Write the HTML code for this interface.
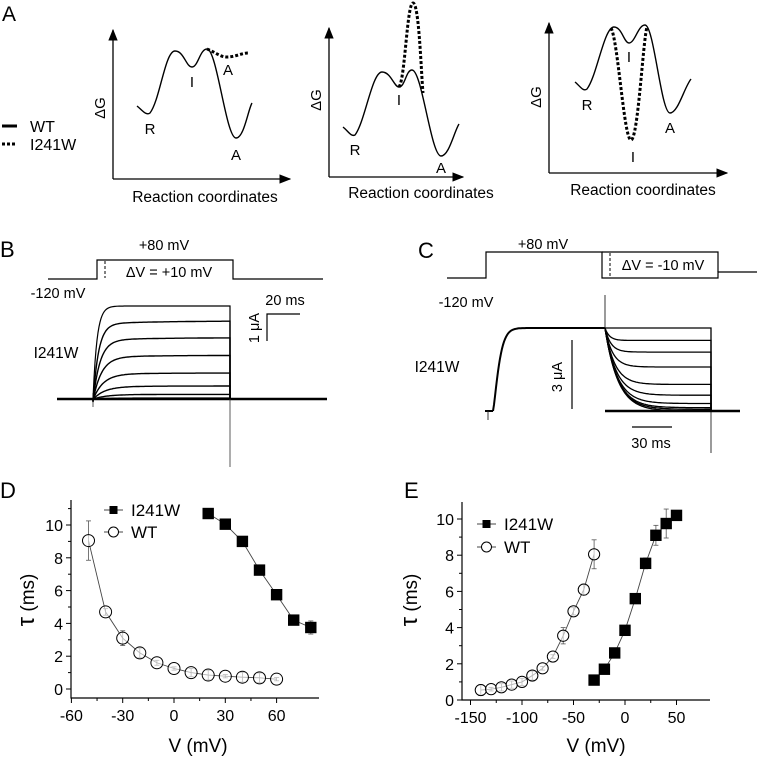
<!DOCTYPE html>
<html><head><meta charset="utf-8"><style>
html,body{margin:0;padding:0;background:#fff;}
svg{display:block;font-family:"Liberation Sans",sans-serif;}
</style></head><body>
<svg id="fig" width="757" height="760" viewBox="0 0 757 760">
<defs>
<marker id="ar" viewBox="0 0 10 10" refX="9" refY="5" markerWidth="9" markerHeight="9" orient="auto"><path d="M0,1 L10,5 L0,9 z" fill="#000"/></marker>
</defs>
<!-- Panel A -->
<g fill="none" stroke="#000">
<text x="2" y="21" font-size="21" stroke="none" fill="#000">A</text>
<line x1="2" y1="126" x2="17" y2="126" stroke-width="3"/>
<text x="30" y="132" font-size="16" stroke="none" fill="#000">WT</text>
<line x1="2" y1="144" x2="17" y2="144" stroke-width="3" stroke-dasharray="3,2"/>
<text x="30" y="150" font-size="16" stroke="none" fill="#000">I241W</text>

<g>
<line x1="113" y1="179" x2="113" y2="30" stroke-width="1.3" marker-end="url(#ar)"/>
<line x1="113" y1="179" x2="290" y2="179" stroke-width="1.3" marker-end="url(#ar)"/>
<path d="M137,106 C142,110 146,116 150,113 C160,100 165,51 175,51 C184,51 186,67 192,67 C198,67 200,49 207,49 C217,49 226,138 236,138 C244,138 248,110 252,103" stroke-width="1.4"/>
<path d="M207,49 C215,52 220,57 227,57 C235,57 242,53 248,53" stroke-width="3" stroke-dasharray="3,2"/>
<g stroke="none" fill="#000" font-size="15" text-anchor="middle">
<text x="105" y="108" transform="rotate(-90 105 108)">ΔG</text>
<text x="150" y="134">R</text><text x="192" y="87">I</text><text x="228" y="75">A</text><text x="236" y="160">A</text>
<text x="205" y="202" font-size="15.5">Reaction coordinates</text>
</g></g>

<g>
<line x1="329" y1="177" x2="329" y2="28" stroke-width="1.3" marker-end="url(#ar)"/>
<line x1="329" y1="177" x2="463" y2="177" stroke-width="1.3" marker-end="url(#ar)"/>
<path d="M343,127 C348,131 351,137 355,135 C365,122 372,72 382,72 C391,72 394,87 399,87 C405,87 406,70 412,70 C422,70 431,156 441,156 C449,156 454,132 459,124" stroke-width="1.4"/>
<path d="M399,87 C405,80 407,3 413,3 C419,3 421,70 423,93" stroke-width="3" stroke-dasharray="3,2"/>
<g stroke="none" fill="#000" font-size="15" text-anchor="middle">
<text x="321" y="100" transform="rotate(-90 321 100)">ΔG</text>
<text x="355" y="155">R</text><text x="399" y="105">I</text><text x="441" y="173">A</text>
<text x="421" y="198" font-size="15.5">Reaction coordinates</text>
</g></g>

<g>
<line x1="549" y1="173" x2="549" y2="23" stroke-width="1.3" marker-end="url(#ar)"/>
<line x1="549" y1="173" x2="727" y2="173" stroke-width="1.3" marker-end="url(#ar)"/>
<path d="M575,82 C580,86 583,92 587,89 C597,76 604,27 614,27 C622,27 624,43 629,43 C635,43 638,25 645,25 C654,25 661,113 670,113 C678,113 684,88 691,79" stroke-width="1.4"/>
<path d="M611,28 C618,40 624,140 631,140 C638,140 643,40 647,27" stroke-width="3" stroke-dasharray="3,2"/>
<g stroke="none" fill="#000" font-size="15" text-anchor="middle">
<text x="541" y="97" transform="rotate(-90 541 97)">ΔG</text>
<text x="587" y="110">R</text><text x="629" y="62">I</text><text x="670" y="133">A</text><text x="633" y="162">I</text>
<text x="643" y="195" font-size="15.5">Reaction coordinates</text>
</g></g>
</g>

<!-- Panel B -->
<g fill="none" stroke="#000">
<text x="0" y="257" font-size="22" stroke="none" fill="#000">B</text>
<path d="M48,279 H97 V260 H233 V279 H323" stroke-width="1.2"/>
<line x1="105" y1="261" x2="105" y2="278" stroke-dasharray="3,2" stroke-width="1"/>
<g stroke="none" fill="#000" font-size="14.5" text-anchor="middle">
<text x="164" y="250">+80 mV</text>
<text x="169" y="277">ΔV = +10 mV</text>
<text x="58" y="298">-120 mV</text>
<text x="285" y="305">20 ms</text>
<text x="259" y="328" transform="rotate(-90 259 328)">1 μA</text>
<text x="56" y="358" font-size="15.5">I241W</text>
</g>
<path d="M267,341 V314 H300" stroke-width="1.2"/>
<g id="tracesB"></g>
</g>

<!-- Panel C -->
<g fill="none" stroke="#000">
<text x="418" y="258" font-size="22" stroke="none" fill="#000">C</text>
<path d="M447,278 H486 V252 H602 V278 H718 V272 H757" stroke-width="1.2"/>
<path d="M602,252 H718 V272" stroke-width="1.2"/>
<line x1="610" y1="253" x2="610" y2="277" stroke-dasharray="3,2" stroke-width="1"/>
<g stroke="none" fill="#000" font-size="14.5" text-anchor="middle">
<text x="543" y="249">+80 mV</text>
<text x="663" y="270">ΔV = -10 mV</text>
<text x="466" y="307">-120 mV</text>
<text x="651" y="448">30 ms</text>
<text x="562" y="377" transform="rotate(-90 562 377)">3 μA</text>
<text x="437" y="372" font-size="15.5">I241W</text>
</g>
<line x1="572" y1="340" x2="572" y2="409" stroke-width="1.2"/>
<line x1="632" y1="427" x2="672" y2="427" stroke-width="1.2"/>
<g id="tracesC"></g>
</g>

<!-- Panel D -->
<g>
<text x="0" y="498" font-size="22" fill="#000">D</text>
<g id="plotD"></g>
</g>
<!-- Panel E -->
<g>
<text x="404" y="498" font-size="22" fill="#000">E</text>
<g id="plotE"></g>
</g>
</svg>
<script>
// Panel D data
const dWtV = [-50,-40,-30,-20,-10,0,10,20,30,40,50,60];
const dWtTau = [9.05,4.7,3.1,2.2,1.6,1.25,1.0,0.85,0.78,0.72,0.68,0.6];
const dWtErr = [1.2,0.2,0.45,0.3,0.15,0.1,0.25,0.3,0.1,0.3,0.3,0.1];
const dMutV = [20,30,40,50,60,70,80];
const dMutTau = [10.7,10.05,9.0,7.25,5.75,4.2,3.75];
const dMutErr = [0.1,0.1,0.1,0.1,0.1,0.1,0.4];
const dXTicks = [-60,-30,0,30,60];
const dYTicks = [0,2,4,6,8,10];
// Panel E data
const eWtV = [-140,-130,-120,-110,-100,-90,-80,-70,-60,-50,-40,-30];
const eWtTau = [0.55,0.6,0.7,0.85,1.0,1.35,1.75,2.4,3.55,4.9,6.1,8.05];
const eWtErr = [0.3,0.1,0.2,0.2,0.2,0.25,0.1,0.1,0.45,0.2,0.3,0.8];
const eMutV = [-30,-20,-10,0,10,20,30,40,50];
const eMutTau = [1.1,1.7,2.6,3.85,5.6,7.55,9.1,9.75,10.2];
const eMutErr = [0.1,0.1,0.1,0.1,0.1,0.3,0.55,0.8,0.1];
const eXTicks = [-150,-100,-50,0,50];
const eYTicks = [0,2,4,6,8,10];
// Panel B/C trace levels (fraction of max current)
const bLevels = [1.0,0.84,0.66,0.47,0.28,0.14,0.05,0.01];
const cLevels = [1.0,0.85,0.71,0.53,0.32,0.19,0.09,0.04,0.02,0.0];

const NS='http://www.w3.org/2000/svg';
function mk(tag,attrs,parent){const e=document.createElementNS(NS,tag);for(const k in attrs)e.setAttribute(k,attrs[k]);parent.appendChild(e);return e;}

function plot(g,cfg){
  const sx=v=>cfg.x0px+(v-cfg.x0)*cfg.kx, sy=v=>cfg.y0px-(v)*cfg.ky;
  const ax=mk('path',{d:`M${cfg.left},${cfg.top} V${cfg.bottom} H${cfg.right}`,fill:'none',stroke:'#000','stroke-width':1.2},g);
  
  
  cfg.xt.forEach((t,i)=>{const x=sx(t);mk('line',{x1:x,y1:cfg.bottom,x2:x,y2:cfg.bottom+5,stroke:'#000'},g);
    if(i<cfg.xt.length-1){const xm=sx(t+(cfg.xt[1]-cfg.xt[0])/2);mk('line',{x1:xm,y1:cfg.bottom,x2:xm,y2:cfg.bottom+3,stroke:'#000'},g);}
    const tx=mk('text',{x:x,y:cfg.bottom+23,'font-size':16,'text-anchor':'middle',fill:'#000'},g);tx.textContent=t;
    
    });
  cfg.yt.forEach((t,i)=>{const y=sy(t);mk('line',{x1:cfg.left-5,y1:y,x2:cfg.left,y2:y,stroke:'#000'},g);
    const ym=sy(t+1);if(ym>cfg.top)mk('line',{x1:cfg.left-3,y1:ym,x2:cfg.left,y2:ym,stroke:'#000'},g);
    const tx=mk('text',{x:cfg.left-8,y:y+6,'font-size':16,'text-anchor':'end',fill:'#000'},g);tx.textContent=t;
    
    });
  const xt=mk('text',{x:cfg.xtx,y:752,'font-size':19,'text-anchor':'middle',fill:'#000'},g);xt.textContent='V (mV)';
  
  
  const yt=mk('text',{x:cfg.ytx,y:cfg.yty,'font-size':19,'text-anchor':'middle',fill:'#000',transform:`rotate(-90 ${cfg.ytx} ${cfg.yty})`},g);
  yt.innerHTML='<tspan font-size="24">τ</tspan> (ms)';
  
  
  function series(V,T,E,kind,name){
    const sg=mk('g',{},g);
    
    
    mk('polyline',{points:V.map((v,i)=>sx(v)+','+sy(T[i])).join(' '),fill:'none',stroke:'#444','stroke-width':0.9},sg);
    V.forEach((v,i)=>{const x=sx(v),y1=sy(T[i]+E[i]),y2=sy(T[i]-E[i]);
      mk('line',{x1:x,y1:y1,x2:x,y2:y2,stroke:'#555','stroke-width':0.8},sg);
      mk('line',{x1:x-2.5,y1:y1,x2:x+2.5,y2:y1,stroke:'#555','stroke-width':0.8},sg);
      mk('line',{x1:x-2.5,y1:y2,x2:x+2.5,y2:y2,stroke:'#555','stroke-width':0.8},sg);});
    V.forEach((v,i)=>{const x=sx(v),y=sy(T[i]);let m;
      if(kind==='sq')m=mk('rect',{x:x-5.7,y:y-5.7,width:11.4,height:11.4,fill:'#000'},sg);
      else m=mk('circle',{cx:x,cy:y,r:cfg.r,fill:'#fff','fill-opacity':0.6,stroke:'#000','stroke-width':1},sg);
      
      });
  }
  series(cfg.wv,cfg.wt,cfg.we,'c','series-wt');
  series(cfg.mv,cfg.mt,cfg.me,'sq','series-i241w');
  const lg=mk('g',{},g);
  
  
  const L=cfg.leg;
  mk('line',{x1:L.x,y1:L.y1,x2:L.x+19,y2:L.y1,stroke:'#444'},lg);
  mk('rect',{x:L.x+5.5,y:L.y1-4,width:8,height:8,fill:'#000'},lg);
  const t1=mk('text',{x:L.x+27,y:L.y1+6,'font-size':17,fill:'#000'},lg);t1.textContent='I241W';
  mk('line',{x1:L.x,y1:L.y2,x2:L.x+19,y2:L.y2,stroke:'#444'},lg);
  mk('circle',{cx:L.x+9.5,cy:L.y2,r:5,fill:'#fff',stroke:'#000'},lg);
  const t2=mk('text',{x:L.x+27,y:L.y2+6,'font-size':17,fill:'#000'},lg);t2.textContent='WT';
}
plot(document.getElementById('plotD'),{x0:0,x0px:174,kx:51.3/30,y0px:689,ky:16.4,left:71,right:319,top:500,bottom:698,
  xt:dXTicks,yt:dYTicks,xtx:198,ytx:34,yty:600,r:6,wv:dWtV,wt:dWtTau,we:dWtErr,mv:dMutV,mt:dMutTau,me:dMutErr,leg:{x:104,y1:510,y2:532}});
plot(document.getElementById('plotE'),{x0:0,x0px:625,kx:51.5/50,y0px:700,ky:18.1,left:462,right:710,top:502,bottom:700,
  xt:eXTicks,yt:eYTicks,xtx:596,ytx:417,yty:600,r:5.6,wv:eWtV,wt:eWtTau,we:eWtErr,mv:eMutV,mt:eMutTau,me:eMutErr,leg:{x:477,y1:524,y2:547}});

// Traces B
(function(){
  const g=document.getElementById('tracesB');const base=399,top=306,x0=93,x1=230;
  mk('path',{d:`M57,${base} H327`,fill:'none',stroke:'#000','stroke-width':2.6},g);
  mk('path',{d:`M93,${base-6} V407 M230,${base-6} V467`,fill:'none',stroke:'#333','stroke-width':0.8},g);
  bLevels.forEach((f,i)=>{const L=base-(base-top)*f;const tau=4+i*1.5;let p=`M${x0},${base}`;
    for(let x=x0;x<=x1;x+=1){const y=L+(base-L)*Math.exp(-(x-x0)/tau)+(base-L)*0.04*Math.exp(-(x-x0)/60)*(i>0?1:0);p+=` L${x},${y.toFixed(1)}`;}
    p+=` L${x1},${base}`;
    const e=mk('path',{d:p,fill:'none',stroke:'#000','stroke-width':i===0?1.2:1.4},g);
    
    });
})();
// Traces C
(function(){
  const g=document.getElementById('tracesC');const base=411,plat=328,xr=493,xs=605,xe=711;
  mk('path',{d:`M485,${base} H${xr}`,fill:'none',stroke:'#000','stroke-width':2},g);
  let p=`M${xr},${base}`;for(let x=xr;x<=xs;x++){const y=plat+(base-plat)*Math.exp(-Math.pow((x-xr)/7,1.3));p+=` L${x},${y.toFixed(1)}`;}
  mk('path',{d:p,fill:'none',stroke:'#000','stroke-width':2},g);
  mk('path',{d:`M${xr-5},${base} V420 M${xs},${plat} V295 M${xe},${base} V453`,fill:'none',stroke:'#222','stroke-width':0.9},g);
  cLevels.forEach((f,i)=>{const L=base-(base-plat)*f;const tau=3+(1-f)*10;let q=`M${xs},${plat}`;
    for(let x=xs;x<=xe;x++){const y=L+(plat-L)*Math.exp(-(x-xs)/tau);q+=` L${x},${y.toFixed(1)}`;}
    q+=` L${xe},${base}`;
    const e=mk('path',{d:q,fill:'none',stroke:'#000','stroke-width':1.3},g);
    
    });
  mk('path',{d:`M${xs},${base} H740`,fill:'none',stroke:'#000','stroke-width':2.4},g);
})();
</script>
</body></html>
